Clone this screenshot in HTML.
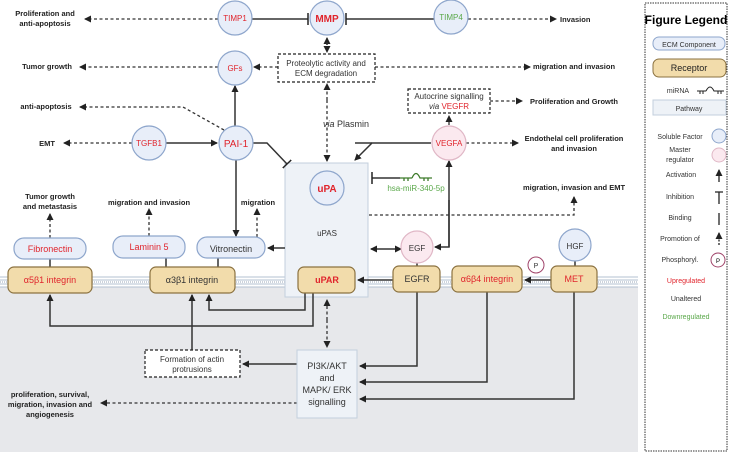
<!DOCTYPE html><html><head><style>body{margin:0;background:#fff}svg{display:block}text{font-family:"Liberation Sans",sans-serif}</style></head><body>
<svg width="731" height="454" viewBox="0 0 731 454" xmlns="http://www.w3.org/2000/svg">
<defs>
<marker id="a" markerWidth="8" markerHeight="8" refX="6" refY="4" orient="auto" markerUnits="userSpaceOnUse"><path d="M0,0.5 L7,4 L0,7.5 z" fill="#222"/></marker>
<marker id="t" markerWidth="4" markerHeight="12" refX="2" refY="6" orient="auto" markerUnits="userSpaceOnUse"><path d="M2,0 V12" stroke="#222" stroke-width="1.5"/></marker>
</defs>
<rect x="0" y="287" width="638" height="165" fill="#e7e8eb"/>
<g stroke="#b3c0d0" stroke-width="1"><line x1="0" y1="277" x2="638" y2="277"/><line x1="0" y1="280" x2="638" y2="280"/><line x1="0" y1="284" x2="638" y2="284"/><line x1="0" y1="287" x2="638" y2="287"/></g>
<g stroke="#ccd3dc" stroke-width="2" stroke-dasharray="1 1"><line x1="0" y1="282" x2="638" y2="282"/></g>
<rect x="285" y="163" width="83" height="134" fill="#eef2f7" stroke="#c3cfdc"/>
<g stroke="#333" stroke-width="1.5" fill="none">
<line x1="252" y1="19" x2="308" y2="19" marker-end="url(#t)"/>
<line x1="434" y1="19" x2="346" y2="19" marker-end="url(#t)"/>
<line x1="235" y1="126" x2="235" y2="86" marker-end="url(#a)"/>
<line x1="166" y1="143" x2="217" y2="143" marker-end="url(#a)"/>
<polyline points="253,143 267,143 287,164" marker-end="url(#t)"/>
<line x1="236" y1="160" x2="236" y2="236" marker-end="url(#a)"/>
<polyline points="431,143 372,143 355,160" marker-end="url(#a)"/>
<line x1="355" y1="143" x2="372" y2="143"/>
<line x1="400" y1="178" x2="372" y2="178" marker-end="url(#t)"/>
<line x1="285" y1="248" x2="268" y2="248" marker-end="url(#a)"/>
<line x1="380" y1="249" x2="401" y2="249" marker-end="url(#a)"/>
<line x1="380" y1="249" x2="371" y2="249" marker-end="url(#a)"/>
<polyline points="449,247 449,161" marker-end="url(#a)"/>
<polyline points="449,200 449,247 435,247" marker-end="url(#a)"/>
<line x1="393" y1="280" x2="358" y2="280" marker-end="url(#a)"/>
<line x1="551" y1="280" x2="525" y2="280" marker-end="url(#a)"/>
<line x1="50" y1="259" x2="50" y2="267"/><line x1="166" y1="258" x2="166" y2="267"/><line x1="218" y1="258" x2="218" y2="267"/>
<line x1="417" y1="263" x2="417" y2="266"/><line x1="575" y1="261" x2="575" y2="266"/>
<polyline points="305,293 305,310 209,310 209,295" marker-end="url(#a)"/>
<polyline points="313,293 313,326 50,326 50,295" marker-end="url(#a)"/>
<line x1="192" y1="350" x2="192" y2="295" marker-end="url(#a)"/>
<line x1="297" y1="364" x2="243" y2="364" marker-end="url(#a)"/>
<polyline points="417,292 417,366 360,366" marker-end="url(#a)"/>
<polyline points="487,292 487,382 360,382" marker-end="url(#a)"/>
<polyline points="574,292 574,399 360,399" marker-end="url(#a)"/>
</g>
<g stroke="#333" stroke-width="1.3" fill="none" stroke-dasharray="3 2.5">
<line x1="218" y1="19" x2="85" y2="19" marker-end="url(#a)"/>
<line x1="468" y1="19" x2="556" y2="19" marker-end="url(#a)"/>
<line x1="218" y1="67" x2="80" y2="67" marker-end="url(#a)"/>
<line x1="278" y1="67" x2="254" y2="67" marker-end="url(#a)"/>
<line x1="375" y1="67" x2="530" y2="67" marker-end="url(#a)"/>
<polyline points="224,130 183,107 80,107" marker-end="url(#a)"/>
<line x1="132" y1="143" x2="64" y2="143" marker-end="url(#a)"/>
<line x1="327" y1="45" x2="327" y2="38" marker-end="url(#a)"/>
<line x1="327" y1="42" x2="327" y2="52" marker-end="url(#a)"/>
<line x1="327" y1="100" x2="327" y2="84" marker-end="url(#a)"/>
<line x1="327" y1="100" x2="327" y2="161" marker-end="url(#a)"/>
<line x1="449" y1="125" x2="449" y2="116" marker-end="url(#a)"/>
<line x1="490" y1="101" x2="522" y2="101" marker-end="url(#a)"/>
<line x1="466" y1="143" x2="518" y2="143" marker-end="url(#a)"/>
<polyline points="369,215 574,215 574,197" marker-end="url(#a)"/>
<line x1="50" y1="238" x2="50" y2="214" marker-end="url(#a)"/>
<line x1="149" y1="236" x2="149" y2="209" marker-end="url(#a)"/>
<line x1="257" y1="237" x2="257" y2="209" marker-end="url(#a)"/>
<line x1="327" y1="320" x2="327" y2="300" marker-end="url(#a)"/>
<line x1="327" y1="320" x2="327" y2="347" marker-end="url(#a)"/>
<line x1="297" y1="403" x2="101" y2="403" marker-end="url(#a)"/>
</g>
<g fill="#fff" stroke="#222" stroke-width="1.2" stroke-dasharray="3 2">
<rect x="278" y="54" width="97" height="28"/>
<rect x="408" y="89" width="82" height="24"/>
<rect x="145" y="350" width="95" height="27"/>
</g>
<g stroke="#8ea6cc" stroke-width="1.2" fill="#e8eef9">
<circle cx="235" cy="18" r="17"/><circle cx="327" cy="18" r="17"/><circle cx="451" cy="17" r="17"/>
<circle cx="235" cy="68" r="17"/><circle cx="149" cy="143" r="17"/><circle cx="236" cy="143" r="17"/>
<circle cx="327" cy="188" r="17"/><circle cx="575" cy="245" r="16"/>
</g>
<g stroke="#e0b7c6" stroke-width="1.2" fill="#fbe9ef">
<circle cx="449" cy="143" r="17"/><circle cx="417" cy="247" r="16"/>
</g>
<circle cx="536" cy="265" r="8" fill="#fff" stroke="#a0446a"/>
<g stroke="#8ea6cc" stroke-width="1.2" fill="#e8eef9">
<rect x="14" y="238" width="72" height="21" rx="10"/>
<rect x="113" y="236" width="72" height="22" rx="10"/>
<rect x="197" y="237" width="68" height="21" rx="10"/>
</g>
<g stroke="#8b7240" stroke-width="1.2" fill="#f2dcab">
<rect x="8" y="267" width="84" height="26" rx="6"/>
<rect x="150" y="267" width="85" height="26" rx="6"/>
<rect x="298" y="267" width="57" height="26" rx="6"/>
<rect x="393" y="266" width="47" height="26" rx="6"/>
<rect x="452" y="266" width="70" height="26" rx="6"/>
<rect x="551" y="266" width="46" height="26" rx="6"/>
</g>
<rect x="297" y="350" width="60" height="68" fill="#eef2f7" stroke="#c3cfdc"/>
<g stroke="#3d7a2a" stroke-width="1.3" fill="none"><path d="M400,178 H412 M404,178 v3 M408,178 v3 M412,178 q4,-9 8,0 H432 M424,178 v3 M428,178 v3"/></g>
<g font-size="8" text-anchor="middle" fill="#e0242c">
<text x="235" y="21">TIMP1</text><text x="327" y="22" font-size="10" font-weight="bold">MMP</text>
<text x="451" y="20" fill="#5aa84a">TIMP4</text>
<text x="235" y="71">GFs</text><text x="149" y="146">TGFB1</text><text x="236" y="147" font-size="10">PAI-1</text>
<text x="449" y="146">VEGFA</text><text x="327" y="192" font-size="10" font-weight="bold">uPA</text>
<text x="50" y="252" font-size="9">Fibronectin</text><text x="149" y="250" font-size="9">Laminin 5</text>
<text x="50" y="283" font-size="9">α5β1 integrin</text><text x="327" y="283" font-size="9" font-weight="bold">uPAR</text>
<text x="487" y="282" font-size="9">α6β4 integrin</text><text x="574" y="282" font-size="9">MET</text>
</g>
<g font-size="8" text-anchor="middle" fill="#333">
<text x="231" y="252" font-size="9">Vitronectin</text><text x="192" y="283" font-size="9">α3β1 integrin</text>
<text x="417" y="282" font-size="9">EGFR</text><text x="417" y="251">EGF</text><text x="575" y="249">HGF</text>
<text x="536" y="268" font-size="7">P</text>
<text x="327" y="236">uPAS</text>
<text x="326" y="66">Proteolytic activity and</text><text x="326" y="76">ECM degradation</text>
<text x="449" y="99">Autocrine signalling</text><text x="449" y="109"><tspan font-style="italic">via </tspan><tspan fill="#e0242c">VEGFR</tspan></text>
<text x="192" y="362">Formation of actin</text><text x="192" y="372">protrusions</text>
<text x="327" y="369" font-size="9">PI3K/AKT</text><text x="327" y="381" font-size="9">and</text><text x="327" y="393" font-size="9">MAPK/ ERK</text><text x="327" y="405" font-size="9">signalling</text>
<text x="346" y="127" font-size="9"><tspan font-style="italic">via</tspan> Plasmin</text>
<text x="416" y="191" fill="#5aa84a">hsa-miR-340-5p</text>
</g>
<g font-size="7.5" font-weight="bold" text-anchor="middle" fill="#222">
<text x="45" y="16">Proliferation and</text><text x="45" y="26">anti-apoptosis</text>
<text x="47" y="69">Tumor growth</text><text x="46" y="109">anti-apoptosis</text><text x="47" y="146">EMT</text>
<text x="50" y="199">Tumor growth</text><text x="50" y="209">and metastasis</text>
<text x="149" y="205">migration and invasion</text><text x="258" y="205">migration</text>
<text x="574" y="69">migration and invasion</text>
<text x="574" y="104">Proliferation and Growth</text>
<text x="574" y="141">Endothelal cell proliferation</text><text x="574" y="151">and invasion</text>
<text x="574" y="190">migration, invasion and EMT</text>
<text x="50" y="397">proliferation, survival,</text><text x="50" y="407">migration, invasion and</text><text x="50" y="417">angiogenesis</text>
</g>
<text x="560" y="22" font-size="7.5" font-weight="bold" fill="#222">Invasion</text>
<rect x="645" y="3" width="82" height="448" fill="#fff" stroke="#333" stroke-dasharray="1.5 1"/>
<text x="686" y="24" font-size="12" font-weight="bold" text-anchor="middle">Figure Legend</text>
<rect x="653" y="37" width="72" height="13" rx="6" fill="#e8eef9" stroke="#8ea6cc"/>
<text x="689" y="47" font-size="7" text-anchor="middle" fill="#333">ECM Component</text>
<rect x="653" y="59" width="73" height="18" rx="6" fill="#f2dcab" stroke="#8b7240"/>
<text x="689" y="71" font-size="9" text-anchor="middle" fill="#222">Receptor</text>
<text x="678" y="93" font-size="7" text-anchor="middle" fill="#333">miRNA</text>
<path d="M697,91 H706 M700,91 v3 M703,91 v3 M706,91 q4,-8 8,0 H724 M718,91 v3 M721,91 v3" stroke="#222" fill="none"/>
<rect x="653" y="100" width="73" height="15" fill="#eef2f7" stroke="#c3cfdc"/>
<text x="689" y="111" font-size="7" text-anchor="middle" fill="#333">Pathway</text>
<g font-size="7" text-anchor="middle" fill="#333">
<text x="680" y="139">Soluble Factor</text><text x="680" y="152">Master</text><text x="680" y="162">regulator</text>
<text x="681" y="177">Activation</text><text x="680" y="199">Inhibition</text><text x="680" y="220">Binding</text>
<text x="680" y="241">Promotion of</text><text x="680" y="262">Phosphoryl.</text>
<text x="686" y="283" fill="#e0242c">Upregulated</text><text x="686" y="301">Unaltered</text><text x="686" y="319" fill="#5aa84a">Downregulated</text>
</g>
<circle cx="719" cy="136" r="7" fill="#e8eef9" stroke="#8ea6cc"/>
<circle cx="719" cy="155" r="7" fill="#fbe9ef" stroke="#e0b7c6"/>
<circle cx="718" cy="260" r="7" fill="#fff" stroke="#a0446a"/><text x="718" y="263" font-size="6" text-anchor="middle">P</text>
<g stroke="#222" stroke-width="1.3" fill="none">
<line x1="719" y1="182" x2="719" y2="170" marker-end="url(#a)"/>
<path d="M715,192 H723 M719,192 V204"/>
<line x1="719" y1="213" x2="719" y2="225"/>
<line x1="719" y1="245" x2="719" y2="233" stroke-dasharray="2 1.5" marker-end="url(#a)"/>
</g>
</svg>
</body></html>
